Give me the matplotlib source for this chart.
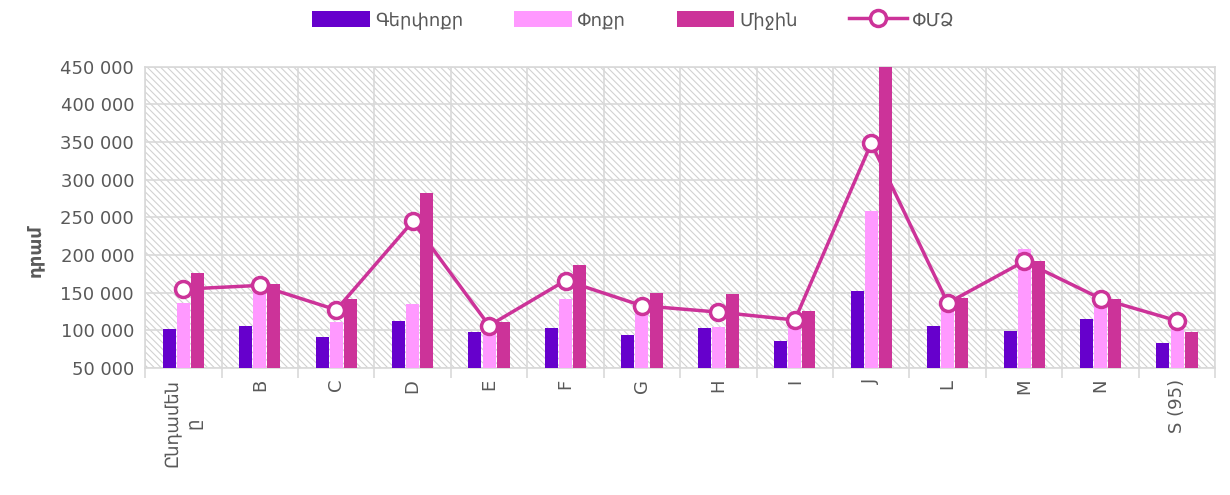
import matplotlib.pyplot as plt
from matplotlib.patches import Rectangle
from matplotlib.ticker import FuncFormatter, FixedLocator
import numpy as np

plt.rcParams['font.family'] = ['DejaVu Sans']
plt.rcParams['hatch.linewidth'] = 0.8

categories = ["Ընդամեն\nը", "B", "C", "D", "E", "F", "G", "H", "I", "J", "L", "M", "N", "S (95)"]
micro = [102000, 106000, 91000, 112500, 97500, 102500, 94000, 102500, 85500, 152000, 106000, 99000, 114500, 83500]
small = [136500, 153000, 111500, 134500, 101000, 141000, 124000, 104000, 107000, 259000, 129000, 207500, 138000, 104000]
medium = [175500, 161500, 141000, 282000, 110500, 187000, 150000, 148000, 126000, 470000, 143000, 192500, 141000, 97000]
sme = [154500, 159500, 127000, 244500, 106000, 166000, 132500, 124000, 113500, 348500, 136000, 191500, 142000, 112500]
series_names = ["Գերփոքր", "Փոքր", "Միջին", "ՓՄՁ"]

text_color = "#595959"
grid_color = "#d9d9d9"

fig = plt.figure(figsize=(12.3, 4.95), dpi=100)
ax = fig.add_axes([0.118, 0.257, 0.870, 0.608])

# hatched background
ax.add_patch(Rectangle((0, 0), 1, 1, transform=ax.transAxes, facecolor="white",
                       edgecolor="#d2d2d2", hatch="\\\\\\\\\\", linewidth=0, zorder=0))

x = np.arange(len(categories))
w = 0.185
b1 = ax.bar(x - w, micro, w * 0.92, color="#6600CC", zorder=3)
b2 = ax.bar(x, small, w * 0.92, color="#FF99FF", zorder=3)
b3 = ax.bar(x + w, medium, w * 0.92, color="#CC3399", zorder=3)
ln, = ax.plot(x, sme, color="#CC3399", linewidth=2.5, marker="o", markersize=11.5,
              markerfacecolor="white", markeredgecolor="#CC3399", markeredgewidth=2.5,
              zorder=4)

ax.set_xlim(-0.5, len(categories) - 0.5)
ax.set_ylim(50000, 450000)
ax.set_yticks(range(50000, 450001, 50000))
ax.yaxis.set_major_formatter(FuncFormatter(lambda v, p: f"{int(v):,}".replace(",", " ")))

ax.set_xticks(x)
ax.set_xticklabels(categories, rotation=90, va="top", ha="center", fontsize=13, color=text_color)
ax.xaxis.set_minor_locator(FixedLocator(np.arange(-0.5, len(categories), 1)))
ax.tick_params(axis="x", which="major", length=0, pad=8)
ax.tick_params(axis="x", which="minor", length=7, color=grid_color, width=1.2)
ax.tick_params(axis="y", length=0, labelsize=13, labelcolor=text_color, pad=8)

ax.grid(axis="y", which="major", color=grid_color, linewidth=1.2, zorder=1)
ax.grid(axis="x", which="minor", color=grid_color, linewidth=1.2, zorder=1)
ax.set_axisbelow(True)
for s in ax.spines.values():
    s.set_color(grid_color)
    s.set_linewidth(1.2)

ax.set_ylabel("դրամ", fontsize=13, fontweight="bold", color=text_color, labelpad=14)
ax.yaxis.set_label_coords(-0.095, 0.39)

fig.legend([b1, b2, b3, ln], series_names, loc="upper center", bbox_to_anchor=(0.515, 1.01),
           ncol=4, frameon=False, fontsize=13, labelcolor=text_color, handlelength=3.2,
           handleheight=1.0, columnspacing=2.8, handletextpad=0.3)

fig.savefig("out.png", dpi=100)
